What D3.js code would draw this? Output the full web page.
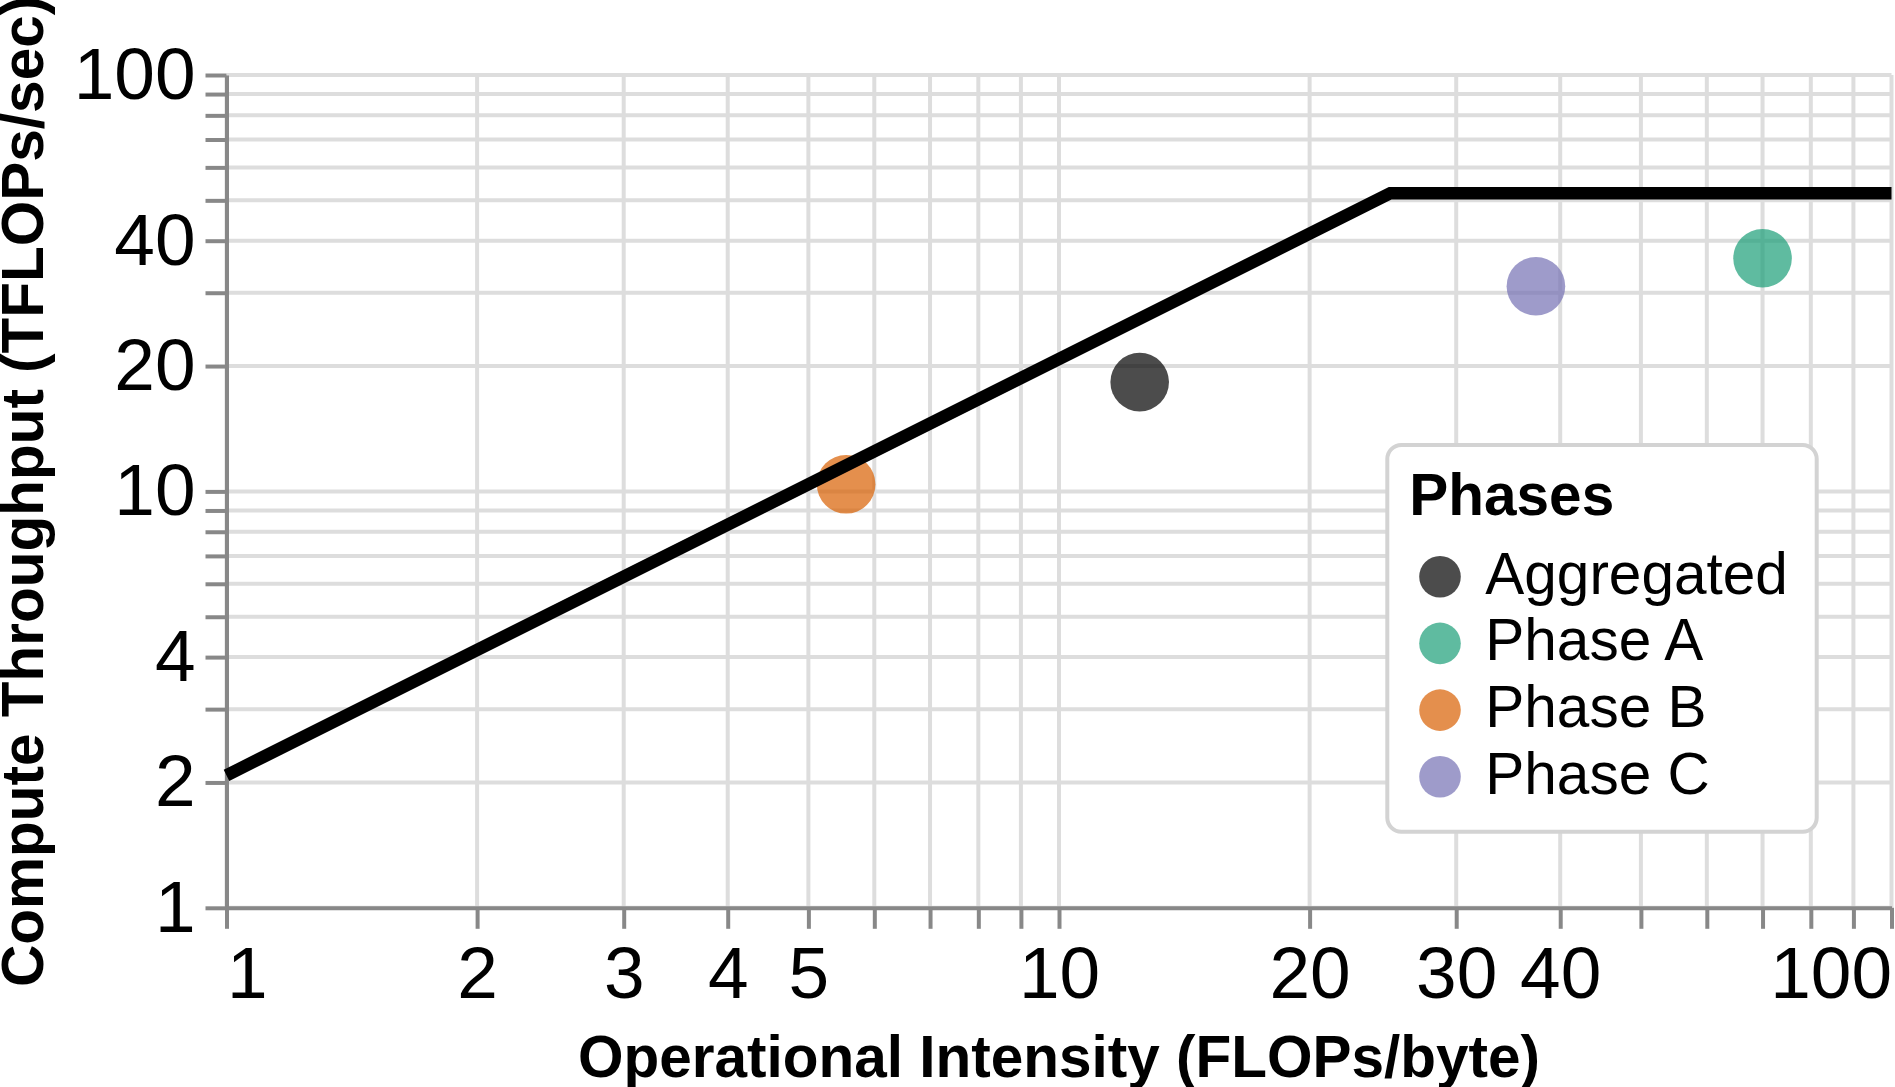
<!DOCTYPE html>
<html>
<head>
<meta charset="utf-8">
<script src="https://cdn.jsdelivr.net/npm/d3@7"></script>
<style>
  body { margin: 0; background: #fff; }
  svg { display: block; font-family: "Liberation Sans", Arial, sans-serif; }
</style>
</head>
<body>
<svg id="chart" width="1895" height="1087"></svg>
<script>
// measured phases
const phases = ["Aggregated", "Phase A", "Phase B", "Phase C"];
const phaseIntensity = [12.5, 70, 5.55, 37.4];
const phaseThroughput = [18.3, 36.3, 10.4, 31.1];
const phaseColors = ["#000000", "#1b9e77", "#d95f02", "#7570b3"];

// roofline: memory bound slope then compute roof
const rooflineIntensity = [1, 25, 100];
const rooflineThroughput = [2.08, 52, 52];

const gridTicks = [1, 2, 3, 4, 5, 6, 7, 8, 9, 10, 20, 30, 40, 50, 60, 70, 80, 90, 100];
const xTickLabels = [1, 2, 3, 4, 5, 10, 20, 30, 40, 100];
const yTickLabels = [1, 2, 4, 10, 20, 40, 100];

const margin = { top: 75, left: 226.5 };
const width = 1665;
const height = 832.8;

const svg = d3.select("#chart");
const g = svg.append("g").attr("transform", `translate(${margin.left},${margin.top})`);

const x = d3.scaleLog().domain([1, 100]).range([0, width]);
const y = d3.scaleLog().domain([1, 100]).range([height, 0]);

// grid
g.append("g")
  .selectAll("line")
  .data(gridTicks)
  .join("line")
  .attr("x1", d => x(d)).attr("x2", d => x(d))
  .attr("y1", 0).attr("y2", height)
  .attr("stroke", "#ddd").attr("stroke-width", 4);

g.append("g")
  .selectAll("line")
  .data(gridTicks)
  .join("line")
  .attr("y1", d => y(d)).attr("y2", d => y(d))
  .attr("x1", 0).attr("x2", width)
  .attr("stroke", "#ddd").attr("stroke-width", 4);

// axes
const xAxis = g.append("g")
  .attr("transform", `translate(0,${height})`)
  .call(d3.axisBottom(x)
    .tickValues(gridTicks)
    .tickSize(21)
    .tickSizeOuter(0)
    .tickPadding(17)
    .tickFormat(d => xTickLabels.includes(d) ? d : ""));

const yAxis = g.append("g")
  .call(d3.axisLeft(y)
    .tickValues(gridTicks)
    .tickSize(21)
    .tickSizeOuter(0)
    .tickPadding(10)
    .tickFormat(d => yTickLabels.includes(d) ? d : ""));

[xAxis, yAxis].forEach(ax => {
  ax.attr("font-family", null).attr("font-size", null);
  ax.select(".domain").attr("stroke", "#888").attr("stroke-width", 4);
  ax.selectAll(".tick line").attr("stroke", "#888").attr("stroke-width", 4);
  ax.selectAll(".tick text").attr("fill", "#000").style("font-size", "73px");
});

// flush first / last x labels
xAxis.selectAll(".tick text")
  .filter(d => d === 1).attr("text-anchor", "start");
xAxis.selectAll(".tick text")
  .filter(d => d === 100).attr("text-anchor", "end");

// axis titles
g.append("text")
  .attr("x", width / 2)
  .attr("y", 1077 - margin.top)
  .attr("text-anchor", "middle")
  .style("font-size", "58.5px")
  .style("font-weight", "bold")
  .text("Operational Intensity (FLOPs/byte)");

g.append("text")
  .attr("transform", `translate(${43.3 - margin.left},${height / 2}) rotate(-90)`)
  .attr("text-anchor", "middle")
  .style("font-size", "58.5px")
  .style("font-weight", "bold")
  .text("Compute Throughput (TFLOPs/sec)");

// points
g.append("g")
  .selectAll("circle")
  .data(phases)
  .join("circle")
  .attr("cx", (d, i) => x(phaseIntensity[i]))
  .attr("cy", (d, i) => y(phaseThroughput[i]))
  .attr("r", 29.3)
  .attr("fill", (d, i) => phaseColors[i])
  .attr("opacity", 0.7);

// roofline
const roof = rooflineIntensity.map((d, i) => [d, rooflineThroughput[i]]);
g.append("path")
  .datum(roof)
  .attr("fill", "none")
  .attr("stroke", "#000")
  .attr("stroke-width", 12.5)
  .attr("d", d3.line().x(d => x(d[0])).y(d => y(d[1])));

// legend
const legend = svg.append("g").attr("transform", "translate(1387.3,445)");

legend.append("rect")
  .attr("width", 429.4)
  .attr("height", 386.7)
  .attr("rx", 14)
  .attr("fill", "#fff")
  .attr("stroke", "#d3d3d3")
  .attr("stroke-width", 4);

legend.append("text")
  .attr("x", 22)
  .attr("y", 70)
  .style("font-size", "58.5px")
  .style("font-weight", "bold")
  .text("Phases");

const rows = legend.selectAll(".row")
  .data(phases)
  .join("g")
  .attr("class", "row")
  .attr("transform", (d, i) => `translate(0,${131.7 + i * 66.7})`);

rows.append("circle")
  .attr("cx", 52.7)
  .attr("r", 20.8)
  .attr("fill", (d, i) => phaseColors[i])
  .attr("opacity", 0.7);

rows.append("text")
  .attr("x", 98)
  .attr("y", 17)
  .style("font-size", "58.5px")
  .text(d => d);
</script>
</body>
</html>
